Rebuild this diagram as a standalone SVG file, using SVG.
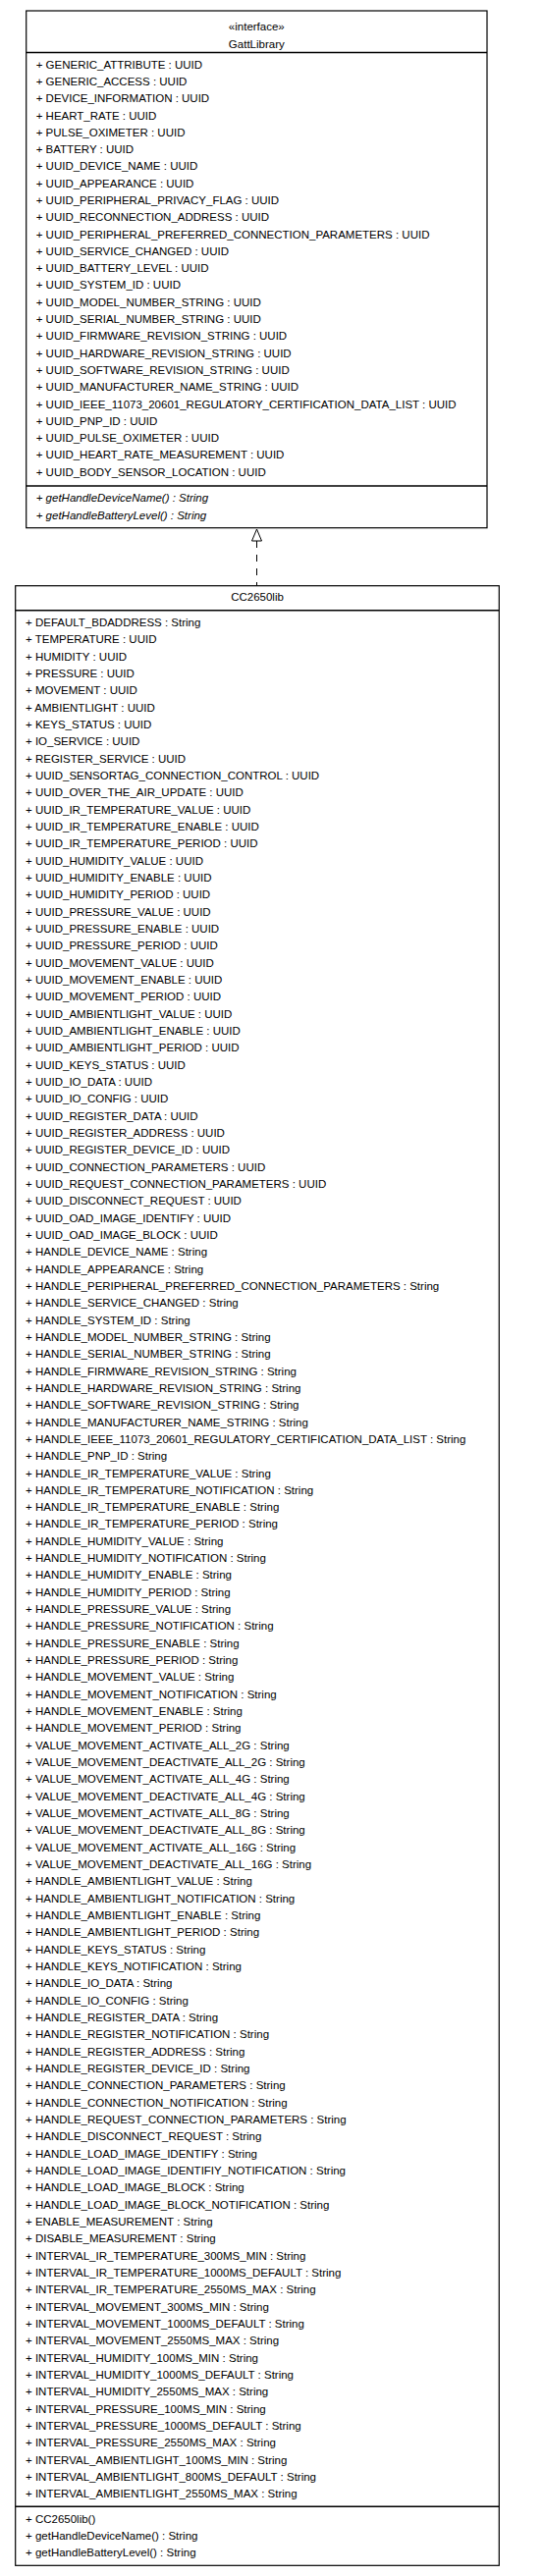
<svg xmlns="http://www.w3.org/2000/svg" width="553" height="2624" viewBox="0 0 553 2624">
<style>
.box{fill:#fff;stroke:#000;stroke-width:1.2}
.sep{stroke:#000;stroke-width:1.6}
.t{font-family:"Liberation Sans",Arial,sans-serif;font-size:11.5px;fill:#000}
.c{text-anchor:middle}
.i{font-style:italic}
.dash{fill:none;stroke:#000;stroke-width:1;stroke-dasharray:7,7}
.head{fill:#fff;stroke:#000;stroke-width:1}
</style>
<rect width="553" height="2624" fill="#fff"/>
<g id="connectors">
<line class="dash" x1="261.5" y1="551" x2="261.5" y2="596.7"/>
<polygon class="head" points="261.5,539 256.5,551 266.5,551"/>
</g>
<g id="GattLibrary">
<rect class="box" x="26.7" y="11" width="469.3" height="526.7"/>
<line class="sep" x1="26.7" y1="53.5" x2="496" y2="53.5"/>
<line class="sep" x1="26.7" y1="495" x2="496" y2="495"/>
<text class="t c" x="261.3" y="30.5">«interface»</text>
<text class="t c" x="261.3" y="49">GattLibrary</text>
<text class="t" x="36.7" y="69.7">
<tspan x="36.7" dy="0">+ GENERIC_ATTRIBUTE : UUID</tspan>
<tspan x="36.7" dy="17.29">+ GENERIC_ACCESS : UUID</tspan>
<tspan x="36.7" dy="17.29">+ DEVICE_INFORMATION : UUID</tspan>
<tspan x="36.7" dy="17.29">+ HEART_RATE : UUID</tspan>
<tspan x="36.7" dy="17.29">+ PULSE_OXIMETER : UUID</tspan>
<tspan x="36.7" dy="17.29">+ BATTERY : UUID</tspan>
<tspan x="36.7" dy="17.29">+ UUID_DEVICE_NAME : UUID</tspan>
<tspan x="36.7" dy="17.29">+ UUID_APPEARANCE : UUID</tspan>
<tspan x="36.7" dy="17.29">+ UUID_PERIPHERAL_PRIVACY_FLAG : UUID</tspan>
<tspan x="36.7" dy="17.29">+ UUID_RECONNECTION_ADDRESS : UUID</tspan>
<tspan x="36.7" dy="17.29">+ UUID_PERIPHERAL_PREFERRED_CONNECTION_PARAMETERS : UUID</tspan>
<tspan x="36.7" dy="17.29">+ UUID_SERVICE_CHANGED : UUID</tspan>
<tspan x="36.7" dy="17.29">+ UUID_BATTERY_LEVEL : UUID</tspan>
<tspan x="36.7" dy="17.29">+ UUID_SYSTEM_ID : UUID</tspan>
<tspan x="36.7" dy="17.29">+ UUID_MODEL_NUMBER_STRING : UUID</tspan>
<tspan x="36.7" dy="17.29">+ UUID_SERIAL_NUMBER_STRING : UUID</tspan>
<tspan x="36.7" dy="17.29">+ UUID_FIRMWARE_REVISION_STRING : UUID</tspan>
<tspan x="36.7" dy="17.29">+ UUID_HARDWARE_REVISION_STRING : UUID</tspan>
<tspan x="36.7" dy="17.29">+ UUID_SOFTWARE_REVISION_STRING : UUID</tspan>
<tspan x="36.7" dy="17.29">+ UUID_MANUFACTURER_NAME_STRING : UUID</tspan>
<tspan x="36.7" dy="17.29">+ UUID_IEEE_11073_20601_REGULATORY_CERTIFICATION_DATA_LIST : UUID</tspan>
<tspan x="36.7" dy="17.29">+ UUID_PNP_ID : UUID</tspan>
<tspan x="36.7" dy="17.29">+ UUID_PULSE_OXIMETER : UUID</tspan>
<tspan x="36.7" dy="17.29">+ UUID_HEART_RATE_MEASUREMENT : UUID</tspan>
<tspan x="36.7" dy="17.29">+ UUID_BODY_SENSOR_LOCATION : UUID</tspan>
</text>
<text class="t i" x="36.7" y="510.5">+ getHandleDeviceName() : String</text>
<text class="t i" x="36.7" y="528.5">+ getHandleBatteryLevel() : String</text>
</g>
<g id="CC2650lib">
<rect class="box" x="15.7" y="596.7" width="492.6" height="2016.6"/>
<line class="sep" x1="15.7" y1="621.7" x2="508.3" y2="621.7"/>
<line class="sep" x1="15.7" y1="2553.3" x2="508.3" y2="2553.3"/>
<text class="t c" x="262" y="612">CC2650lib</text>
<text class="t" x="26" y="638">
<tspan x="26" dy="0">+ DEFAULT_BDADDRESS : String</tspan>
<tspan x="26" dy="17.33">+ TEMPERATURE : UUID</tspan>
<tspan x="26" dy="17.33">+ HUMIDITY : UUID</tspan>
<tspan x="26" dy="17.33">+ PRESSURE : UUID</tspan>
<tspan x="26" dy="17.33">+ MOVEMENT : UUID</tspan>
<tspan x="26" dy="17.33">+ AMBIENTLIGHT : UUID</tspan>
<tspan x="26" dy="17.33">+ KEYS_STATUS : UUID</tspan>
<tspan x="26" dy="17.33">+ IO_SERVICE : UUID</tspan>
<tspan x="26" dy="17.33">+ REGISTER_SERVICE : UUID</tspan>
<tspan x="26" dy="17.33">+ UUID_SENSORTAG_CONNECTION_CONTROL : UUID</tspan>
<tspan x="26" dy="17.33">+ UUID_OVER_THE_AIR_UPDATE : UUID</tspan>
<tspan x="26" dy="17.33">+ UUID_IR_TEMPERATURE_VALUE : UUID</tspan>
<tspan x="26" dy="17.33">+ UUID_IR_TEMPERATURE_ENABLE : UUID</tspan>
<tspan x="26" dy="17.33">+ UUID_IR_TEMPERATURE_PERIOD : UUID</tspan>
<tspan x="26" dy="17.33">+ UUID_HUMIDITY_VALUE : UUID</tspan>
<tspan x="26" dy="17.33">+ UUID_HUMIDITY_ENABLE : UUID</tspan>
<tspan x="26" dy="17.33">+ UUID_HUMIDITY_PERIOD : UUID</tspan>
<tspan x="26" dy="17.33">+ UUID_PRESSURE_VALUE : UUID</tspan>
<tspan x="26" dy="17.33">+ UUID_PRESSURE_ENABLE : UUID</tspan>
<tspan x="26" dy="17.33">+ UUID_PRESSURE_PERIOD : UUID</tspan>
<tspan x="26" dy="17.33">+ UUID_MOVEMENT_VALUE : UUID</tspan>
<tspan x="26" dy="17.33">+ UUID_MOVEMENT_ENABLE : UUID</tspan>
<tspan x="26" dy="17.33">+ UUID_MOVEMENT_PERIOD : UUID</tspan>
<tspan x="26" dy="17.33">+ UUID_AMBIENTLIGHT_VALUE : UUID</tspan>
<tspan x="26" dy="17.33">+ UUID_AMBIENTLIGHT_ENABLE : UUID</tspan>
<tspan x="26" dy="17.33">+ UUID_AMBIENTLIGHT_PERIOD : UUID</tspan>
<tspan x="26" dy="17.33">+ UUID_KEYS_STATUS : UUID</tspan>
<tspan x="26" dy="17.33">+ UUID_IO_DATA : UUID</tspan>
<tspan x="26" dy="17.33">+ UUID_IO_CONFIG : UUID</tspan>
<tspan x="26" dy="17.33">+ UUID_REGISTER_DATA : UUID</tspan>
<tspan x="26" dy="17.33">+ UUID_REGISTER_ADDRESS : UUID</tspan>
<tspan x="26" dy="17.33">+ UUID_REGISTER_DEVICE_ID : UUID</tspan>
<tspan x="26" dy="17.33">+ UUID_CONNECTION_PARAMETERS : UUID</tspan>
<tspan x="26" dy="17.33">+ UUID_REQUEST_CONNECTION_PARAMETERS : UUID</tspan>
<tspan x="26" dy="17.33">+ UUID_DISCONNECT_REQUEST : UUID</tspan>
<tspan x="26" dy="17.33">+ UUID_OAD_IMAGE_IDENTIFY : UUID</tspan>
<tspan x="26" dy="17.33">+ UUID_OAD_IMAGE_BLOCK : UUID</tspan>
<tspan x="26" dy="17.33">+ HANDLE_DEVICE_NAME : String</tspan>
<tspan x="26" dy="17.33">+ HANDLE_APPEARANCE : String</tspan>
<tspan x="26" dy="17.33">+ HANDLE_PERIPHERAL_PREFERRED_CONNECTION_PARAMETERS : String</tspan>
<tspan x="26" dy="17.33">+ HANDLE_SERVICE_CHANGED : String</tspan>
<tspan x="26" dy="17.33">+ HANDLE_SYSTEM_ID : String</tspan>
<tspan x="26" dy="17.33">+ HANDLE_MODEL_NUMBER_STRING : String</tspan>
<tspan x="26" dy="17.33">+ HANDLE_SERIAL_NUMBER_STRING : String</tspan>
<tspan x="26" dy="17.33">+ HANDLE_FIRMWARE_REVISION_STRING : String</tspan>
<tspan x="26" dy="17.33">+ HANDLE_HARDWARE_REVISION_STRING : String</tspan>
<tspan x="26" dy="17.33">+ HANDLE_SOFTWARE_REVISION_STRING : String</tspan>
<tspan x="26" dy="17.33">+ HANDLE_MANUFACTURER_NAME_STRING : String</tspan>
<tspan x="26" dy="17.33">+ HANDLE_IEEE_11073_20601_REGULATORY_CERTIFICATION_DATA_LIST : String</tspan>
<tspan x="26" dy="17.33">+ HANDLE_PNP_ID : String</tspan>
<tspan x="26" dy="17.33">+ HANDLE_IR_TEMPERATURE_VALUE : String</tspan>
<tspan x="26" dy="17.33">+ HANDLE_IR_TEMPERATURE_NOTIFICATION : String</tspan>
<tspan x="26" dy="17.33">+ HANDLE_IR_TEMPERATURE_ENABLE : String</tspan>
<tspan x="26" dy="17.33">+ HANDLE_IR_TEMPERATURE_PERIOD : String</tspan>
<tspan x="26" dy="17.33">+ HANDLE_HUMIDITY_VALUE : String</tspan>
<tspan x="26" dy="17.33">+ HANDLE_HUMIDITY_NOTIFICATION : String</tspan>
<tspan x="26" dy="17.33">+ HANDLE_HUMIDITY_ENABLE : String</tspan>
<tspan x="26" dy="17.33">+ HANDLE_HUMIDITY_PERIOD : String</tspan>
<tspan x="26" dy="17.33">+ HANDLE_PRESSURE_VALUE : String</tspan>
<tspan x="26" dy="17.33">+ HANDLE_PRESSURE_NOTIFICATION : String</tspan>
<tspan x="26" dy="17.33">+ HANDLE_PRESSURE_ENABLE : String</tspan>
<tspan x="26" dy="17.33">+ HANDLE_PRESSURE_PERIOD : String</tspan>
<tspan x="26" dy="17.33">+ HANDLE_MOVEMENT_VALUE : String</tspan>
<tspan x="26" dy="17.33">+ HANDLE_MOVEMENT_NOTIFICATION : String</tspan>
<tspan x="26" dy="17.33">+ HANDLE_MOVEMENT_ENABLE : String</tspan>
<tspan x="26" dy="17.33">+ HANDLE_MOVEMENT_PERIOD : String</tspan>
<tspan x="26" dy="17.33">+ VALUE_MOVEMENT_ACTIVATE_ALL_2G : String</tspan>
<tspan x="26" dy="17.33">+ VALUE_MOVEMENT_DEACTIVATE_ALL_2G : String</tspan>
<tspan x="26" dy="17.33">+ VALUE_MOVEMENT_ACTIVATE_ALL_4G : String</tspan>
<tspan x="26" dy="17.33">+ VALUE_MOVEMENT_DEACTIVATE_ALL_4G : String</tspan>
<tspan x="26" dy="17.33">+ VALUE_MOVEMENT_ACTIVATE_ALL_8G : String</tspan>
<tspan x="26" dy="17.33">+ VALUE_MOVEMENT_DEACTIVATE_ALL_8G : String</tspan>
<tspan x="26" dy="17.33">+ VALUE_MOVEMENT_ACTIVATE_ALL_16G : String</tspan>
<tspan x="26" dy="17.33">+ VALUE_MOVEMENT_DEACTIVATE_ALL_16G : String</tspan>
<tspan x="26" dy="17.33">+ HANDLE_AMBIENTLIGHT_VALUE : String</tspan>
<tspan x="26" dy="17.33">+ HANDLE_AMBIENTLIGHT_NOTIFICATION : String</tspan>
<tspan x="26" dy="17.33">+ HANDLE_AMBIENTLIGHT_ENABLE : String</tspan>
<tspan x="26" dy="17.33">+ HANDLE_AMBIENTLIGHT_PERIOD : String</tspan>
<tspan x="26" dy="17.33">+ HANDLE_KEYS_STATUS : String</tspan>
<tspan x="26" dy="17.33">+ HANDLE_KEYS_NOTIFICATION : String</tspan>
<tspan x="26" dy="17.33">+ HANDLE_IO_DATA : String</tspan>
<tspan x="26" dy="17.33">+ HANDLE_IO_CONFIG : String</tspan>
<tspan x="26" dy="17.33">+ HANDLE_REGISTER_DATA : String</tspan>
<tspan x="26" dy="17.33">+ HANDLE_REGISTER_NOTIFICATION : String</tspan>
<tspan x="26" dy="17.33">+ HANDLE_REGISTER_ADDRESS : String</tspan>
<tspan x="26" dy="17.33">+ HANDLE_REGISTER_DEVICE_ID : String</tspan>
<tspan x="26" dy="17.33">+ HANDLE_CONNECTION_PARAMETERS : String</tspan>
<tspan x="26" dy="17.33">+ HANDLE_CONNECTION_NOTIFICATION : String</tspan>
<tspan x="26" dy="17.33">+ HANDLE_REQUEST_CONNECTION_PARAMETERS : String</tspan>
<tspan x="26" dy="17.33">+ HANDLE_DISCONNECT_REQUEST : String</tspan>
<tspan x="26" dy="17.33">+ HANDLE_LOAD_IMAGE_IDENTIFY : String</tspan>
<tspan x="26" dy="17.33">+ HANDLE_LOAD_IMAGE_IDENTIFIY_NOTIFICATION : String</tspan>
<tspan x="26" dy="17.33">+ HANDLE_LOAD_IMAGE_BLOCK : String</tspan>
<tspan x="26" dy="17.33">+ HANDLE_LOAD_IMAGE_BLOCK_NOTIFICATION : String</tspan>
<tspan x="26" dy="17.33">+ ENABLE_MEASUREMENT : String</tspan>
<tspan x="26" dy="17.33">+ DISABLE_MEASUREMENT : String</tspan>
<tspan x="26" dy="17.33">+ INTERVAL_IR_TEMPERATURE_300MS_MIN : String</tspan>
<tspan x="26" dy="17.33">+ INTERVAL_IR_TEMPERATURE_1000MS_DEFAULT : String</tspan>
<tspan x="26" dy="17.33">+ INTERVAL_IR_TEMPERATURE_2550MS_MAX : String</tspan>
<tspan x="26" dy="17.33">+ INTERVAL_MOVEMENT_300MS_MIN : String</tspan>
<tspan x="26" dy="17.33">+ INTERVAL_MOVEMENT_1000MS_DEFAULT : String</tspan>
<tspan x="26" dy="17.33">+ INTERVAL_MOVEMENT_2550MS_MAX : String</tspan>
<tspan x="26" dy="17.33">+ INTERVAL_HUMIDITY_100MS_MIN : String</tspan>
<tspan x="26" dy="17.33">+ INTERVAL_HUMIDITY_1000MS_DEFAULT : String</tspan>
<tspan x="26" dy="17.33">+ INTERVAL_HUMIDITY_2550MS_MAX : String</tspan>
<tspan x="26" dy="17.33">+ INTERVAL_PRESSURE_100MS_MIN : String</tspan>
<tspan x="26" dy="17.33">+ INTERVAL_PRESSURE_1000MS_DEFAULT : String</tspan>
<tspan x="26" dy="17.33">+ INTERVAL_PRESSURE_2550MS_MAX : String</tspan>
<tspan x="26" dy="17.33">+ INTERVAL_AMBIENTLIGHT_100MS_MIN : String</tspan>
<tspan x="26" dy="17.33">+ INTERVAL_AMBIENTLIGHT_800MS_DEFAULT : String</tspan>
<tspan x="26" dy="17.33">+ INTERVAL_AMBIENTLIGHT_2550MS_MAX : String</tspan>
</text>
<text class="t" x="26" y="2569.5">+ CC2650lib()</text>
<text class="t" x="26" y="2586.8">+ getHandleDeviceName() : String</text>
<text class="t" x="26" y="2604">+ getHandleBatteryLevel() : String</text>
</g>
</svg>
